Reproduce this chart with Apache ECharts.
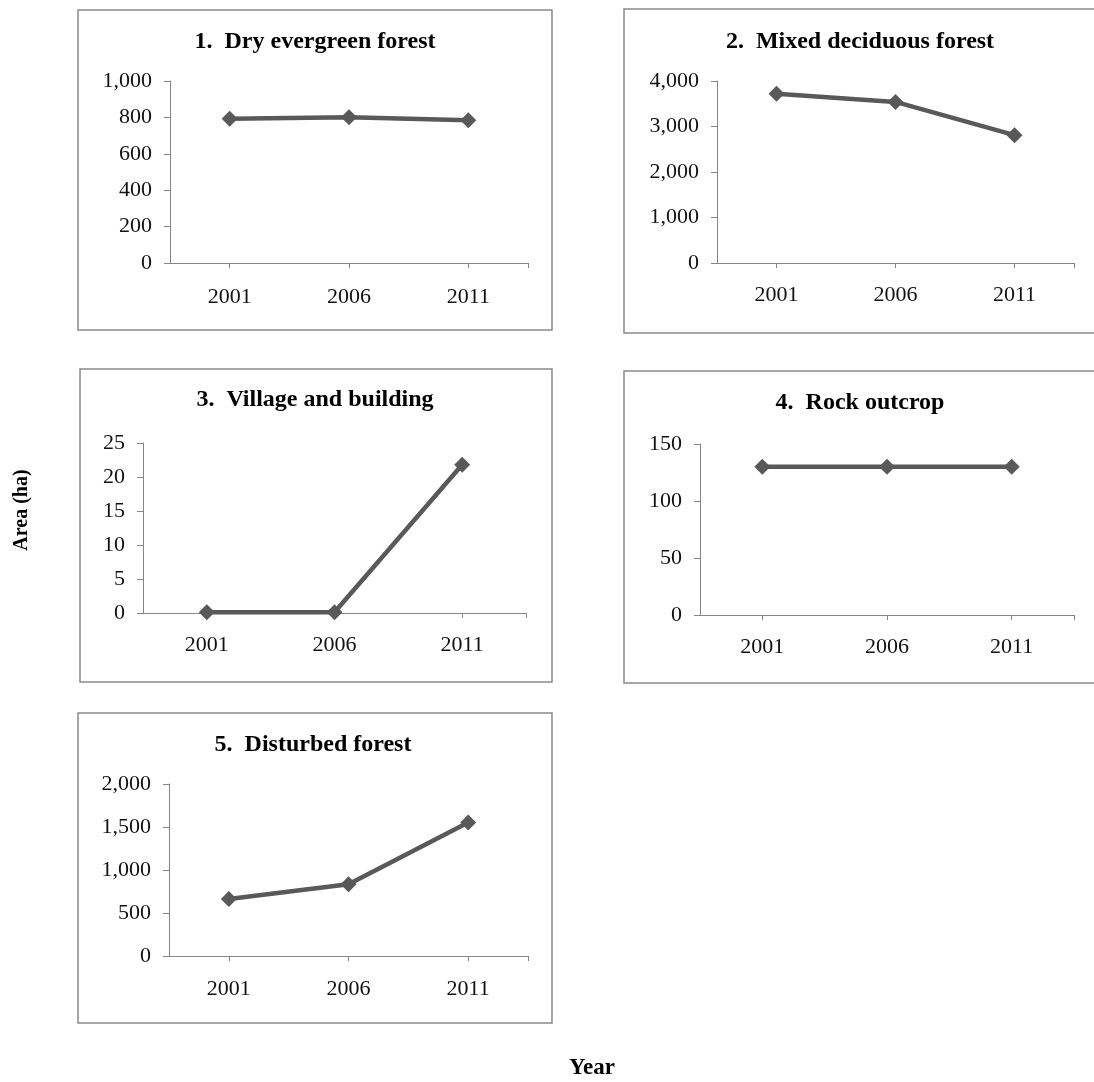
<!DOCTYPE html>
<html>
<head>
<meta charset="utf-8">
<script src="https://cdn.jsdelivr.net/npm/echarts@6/dist/echarts.min.js"></script>
<style>
  html, body { margin: 0; padding: 0; background: #ffffff; }
  #chart { width: 1094px; height: 1082px; }
</style>
</head>
<body>
<div id="chart"></div>
<script>
// Survey years shared by every land-use class
const years = ['2001', '2006', '2011'];

// Area (ha) of each land-use class per year
const dryEvergreen   = [793, 801, 784];
const mixedDeciduous = [3720, 3540, 2810];
const villageBuilding = [0.1, 0.1, 21.8];
const rockOutcrop    = [130, 130, 130];
const disturbedForest = [663, 835, 1553];

// Panel titles
const panelTitles = [
  '1.  Dry evergreen forest',
  '2.  Mixed deciduous forest',
  '3.  Village and building',
  '4.  Rock outcrop',
  '5.  Disturbed forest'
];

// Value-axis ranges and tick steps
const axisMax  = [1000, 4000, 25, 150, 2000];
const axisStep = [200, 1000, 5, 50, 500];

const seriesValues = [dryEvergreen, mixedDeciduous, villageBuilding, rockOutcrop, disturbedForest];

// Page layout of the five framed panels (pixels)
const layout = [
  { box: [78, 10, 474, 320],  grid: { left: 170, top: 81,  width: 358, height: 182 }, title: [315, 42],  labelGap: 34 },
  { box: [624, 9, 520, 324],  grid: { left: 717, top: 81,  width: 357, height: 182 }, title: [860, 42],  labelGap: 32 },
  { box: [80, 369, 472, 313], grid: { left: 143, top: 443, width: 383, height: 170 }, title: [315, 400], labelGap: 32 },
  { box: [624, 371, 520, 312],grid: { left: 700, top: 444, width: 374, height: 171 }, title: [860, 403], labelGap: 32 },
  { box: [78, 713, 474, 310], grid: { left: 169, top: 784, width: 359, height: 172 }, title: [313, 745], labelGap: 33 }
];

const FONT = '"Liberation Serif", "Times New Roman", Times, serif';
const AXIS_GRAY = '#868686';
const LINE_GRAY = '#595959';

const fmt = v => Number(v).toLocaleString('en-US');

const grids = [], xAxes = [], yAxes = [], series = [], titles = [], graphics = [];

layout.forEach((p, i) => {
  grids.push(Object.assign({ containLabel: false }, p.grid));

  titles.push({
    text: panelTitles[i],
    left: p.title[0],
    top: p.title[1] - 13,
    textAlign: 'center',
    padding: 0,
    textStyle: { fontFamily: FONT, fontWeight: 'bold', fontSize: 24, lineHeight: 26, color: '#000' }
  });

  // category axis carrying the year labels, ticks centred on each year
  xAxes.push({
    type: 'category',
    gridIndex: i,
    position: 'bottom',
    data: years,
    boundaryGap: true,
    axisLine: { show: true, lineStyle: { color: AXIS_GRAY, width: 1 } },
    axisTick: { show: true, alignWithLabel: true, length: 5, lineStyle: { color: AXIS_GRAY } },
    axisLabel: { margin: p.labelGap, verticalAlign: 'middle', fontFamily: FONT, fontSize: 22, color: '#111' },
    splitLine: { show: false }
  });
  // companion axis that only adds the closing tick at the right end
  xAxes.push({
    type: 'value',
    gridIndex: i,
    position: 'bottom',
    min: 0,
    max: 1,
    axisLine: { show: false },
    axisLabel: { show: false },
    splitLine: { show: false },
    axisTick: { show: true, customValues: [1], length: 5, lineStyle: { color: AXIS_GRAY } }
  });

  yAxes.push({
    type: 'value',
    gridIndex: i,
    min: 0,
    max: axisMax[i],
    interval: axisStep[i],
    axisLine: { show: true, lineStyle: { color: AXIS_GRAY, width: 1 } },
    axisTick: { show: true, length: 6, lineStyle: { color: AXIS_GRAY } },
    axisLabel: { margin: 18, formatter: fmt, fontFamily: FONT, fontSize: 22, color: '#111' },
    splitLine: { show: false }
  });

  series.push({
    type: 'line',
    xAxisIndex: 2 * i,
    yAxisIndex: i,
    data: seriesValues[i],
    symbol: 'diamond',
    symbolSize: 16,
    clip: false,
    lineStyle: { color: LINE_GRAY, width: 4.5 },
    itemStyle: { color: LINE_GRAY },
    emphasis: { disabled: true }
  });

  graphics.push({
    type: 'rect',
    silent: true,
    z: -1,
    shape: { x: p.box[0], y: p.box[1], width: p.box[2], height: p.box[3] },
    style: { fill: 'none', stroke: '#8a8a8a', lineWidth: 1.5 }
  });
});

// shared axis titles
graphics.push({
  type: 'text',
  x: 22,
  y: 510,
  rotation: Math.PI / 2,
  style: { text: 'Area (ha)', font: 'bold 20px ' + FONT, fill: '#000', textAlign: 'center', textVerticalAlign: 'middle' }
});
graphics.push({
  type: 'text',
  x: 592,
  y: 1068,
  style: { text: 'Year', font: 'bold 23px ' + FONT, fill: '#000', textAlign: 'center', textVerticalAlign: 'middle' }
});

const chart = echarts.init(document.getElementById('chart'), null, { renderer: 'canvas' });
chart.setOption({
  backgroundColor: '#ffffff',
  animation: false,
  title: titles,
  grid: grids,
  xAxis: xAxes,
  yAxis: yAxes,
  series: series,
  graphic: graphics
});
</script>
</body>
</html>
